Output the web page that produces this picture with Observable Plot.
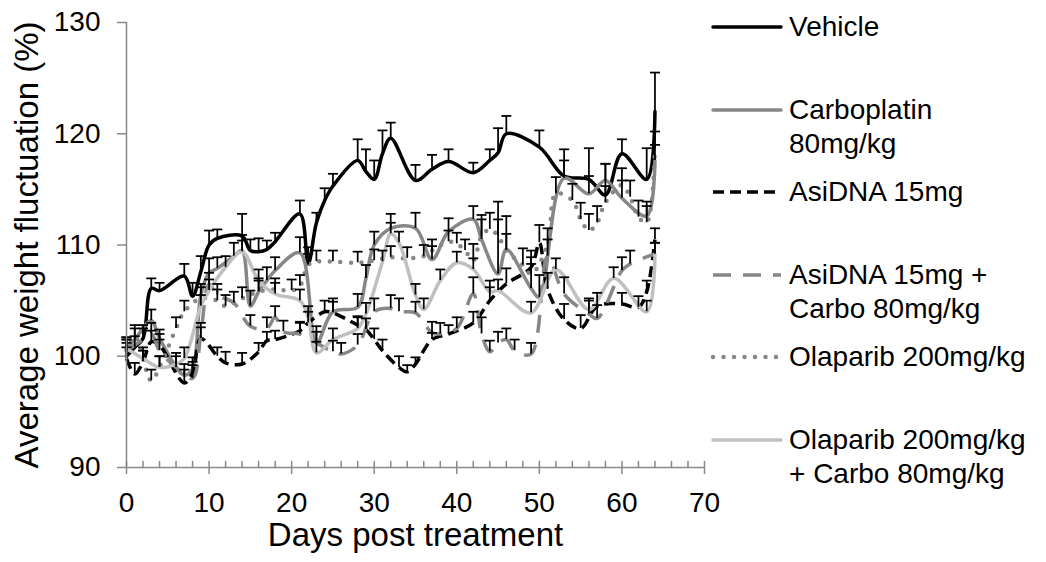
<!DOCTYPE html>
<html>
<head>
<meta charset="utf-8">
<script src="https://cdn.jsdelivr.net/npm/d3@7"></script>
<script src="https://cdn.jsdelivr.net/npm/@observablehq/plot@0.6"></script>
<style>
  body { margin: 0; background: #fff; font-family: "Liberation Sans", Arial, sans-serif; }
  #wrap { position: relative; width: 1046px; height: 562px; overflow: hidden; }
  #legend { position: absolute; left: 0; top: 0; width: 1046px; height: 562px; pointer-events: none; }
  .item { position: absolute; left: 711px; display: flex; align-items: flex-start; }
  .item svg { flex: none; }
  .item .lab { font-size: 28px; line-height: 34px; color: #000; white-space: nowrap; }
</style>
</head>
<body>
<div id="wrap"><div id="chart"></div><div id="legend"></div></div>
<script>
// ---- data: [day, mean %, upper error] ----
const vehicle = [[0,100,1.2],[1,100.8,1],[2,101.6,1.2],[3,106.1,0.9],[4,105.9,0.7],[7,107.2,1.1],[8,105.4,1.2],[9,107.6,1.4],[10,110,1.3],[11,110.6,0.8],[14,110.8,2],[15,109.5,1],[16,109.4,1.2],[17,109.6,0.8],[18,110.3,0.8],[21,112.8,1.2],[22,108.3,1.5],[23,112,0.9],[24,114,1.1],[25,115.3,1.1],[28,117.6,1.9],[29,116.6,2],[30,115.9,1.7],[31,118.2,2.1],[32,119.6,1.4],[35,115.8,1.4],[37,116.8,1.3],[39,117.5,1.1],[42,116.5,0.9],[44,117.6,1],[45,118.3,2.2],[46,120,1.6],[50,118.8,1.5],[53,116.2,2.4],[56,115.9,2.8],[58,114.5,2.8],[60,118.2,1.3],[63,115.9,2.8],[64,122,3.5]];
const carboplatin = [[0,100.7,1],[1,101.5,1],[3,103.2,1],[4,101.6,0.8],[7,98.3,1],[8,98.9,1],[9,105.5,1],[10,107.5,1.3],[11,107.9,1],[13,109,1.2],[14,109.5,1.4],[15,104.5,1.4],[16,105.8,1.2],[17,106.8,1.2],[18,107.7,1.2],[21,109.3,1.4],[23,101.2,1.5],[25,104,1.2],[28,104.4,1.2],[29,107,1.2],[30,110,1.2],[32,111.5,1.3],[35,111.5,1.4],[37,108.7,1.2],[39,111.2,1.2],[42,112.3,1.2],[43,110.5,2.2],[45,107.4,6.5],[46,109.6,3],[49,106.1,2.2],[50,105.3,2],[53,116,1.6],[56,114.6,1.6],[58,115.8,1.5],[60,114.2,1.6],[63,112.6,1.3],[64,117.6,1.4]];
const asidna = [[0,99.8,1],[1,98.4,1],[2,99.5,1],[3,101.3,1],[4,101,1],[7,97.6,1.2],[8,98.5,1],[9,101.6,1],[11,100,0.8],[12,99.4,1],[14,99.3,1],[16,100.4,0.8],[17,101.4,0.8],[18,101.5,0.8],[21,102.3,0.8],[22,103,1],[24,104,1],[25,103.9,1],[28,102.8,0.8],[29,102.4,1],[30,101.5,1],[31,100.5,1],[33,99,1],[34,98.6,0.6],[35,99.3,0.6],[37,101.5,0.6],[39,102,0.8],[42,103,1],[44,105,1.2],[46,106.5,1.4],[49,108,1.5],[50,110.2,1.6],[51,106,1.5],[53,103.3,1.4],[55,102.5,1.2],[57,104.5,1.2],[60,104.7,1],[62,104.4,1],[63,105.8,1],[64,110.5,1]];
const asidnaCarbo = [[0,100.5,1],[2,101.5,1],[3,102,1],[4,100.5,1],[6,99,1],[8,98,1.2],[9,102,1],[10,106.5,1],[11,105.5,1],[13,104.8,1],[15,102.7,1],[17,102.5,1],[18,103.5,1],[19,102.2,1],[21,102,1],[23,101.2,1],[25,100.4,1],[26,100.2,1],[28,101,1],[30,104,1.2],[32,104.3,1.2],[33,104,1.2],[35,103.9,1],[37,102.1,1],[38,102,1],[40,102.5,1],[42,105.6,1.5],[43,102,1.5],[44,100.4,1],[45,101.2,1],[46,101.5,1],[47,100.5,1],[49,100.2,1],[51,109,1.5],[53,105.6,1.5],[56,103.8,1.2],[57,103.4,1.2],[60,107.7,1.2],[61,108.3,1.2],[64,109.2,1]];
const olaparib = [[0,100.5,1],[1,101.8,1],[3,97.8,1],[4,99,1],[6,102.5,1],[7,104,1],[9,105.2,1],[11,105,1],[12,104.5,1],[14,105.2,1],[16,105.8,1],[18,106,1],[20,105.9,1],[21,106.3,1],[22,108.2,1],[23,108.5,1],[25,108.5,1],[28,108.4,1],[30,108.6,1],[32,108.9,1],[34,108.8,1],[36,109,1],[37,109.5,1],[39,110.3,1],[40,110.1,1],[41,109.5,1],[42,108.6,1.5],[43,110.8,1.5],[44,111.4,1.5],[45,110.8,1.5],[46,109.5,1.5],[48,108.2,1.5],[49,107.4,1.5],[51,110,1.5],[52,114.6,1.5],[54,114,1.5],[55,112.3,1.5],[56,111.3,1.5],[57,112,1.5],[58,113.8,1.5],[60,115.4,1.5],[61,114.3,1.5],[62,112.5,1.5],[63,112,1.5],[64,118.7,1.5]];
const olaparibCarbo = [[0,100.7,1],[2,99.8,1],[4,99,1],[6,99.3,1],[7,99.8,1],[9,104.5,1],[10,105.9,1],[12,108,1],[14,109.4,1],[16,106.8,1],[18,105.6,1],[21,105,1],[22,103.5,1],[23,100.3,1],[25,101.5,1],[28,102.5,1],[29,103.8,1],[31,108.5,1],[32,111,1],[33,110.2,1],[35,105.5,1],[36,104.2,1],[38,106.8,1],[40,108.4,1],[42,107.8,1],[44,105.8,1],[45,105.9,1],[49,103.9,1],[52,107.8,1],[56,104.2,1],[59,107,1],[63,104,1],[64,109.2,1]];

const seriesNames = ["Vehicle", "Carboplatin 80mg/kg", "AsiDNA 15mg", "AsiDNA 15mg + Carbo 80mg/kg", "Olaparib 200mg/kg", "Olaparib 200mg/kg + Carbo 80mg/kg"];
const legendLines = [["Vehicle"], ["Carboplatin", "80mg/kg"], ["AsiDNA 15mg"], ["AsiDNA 15mg +", "Carbo 80mg/kg"], ["Olaparib 200mg/kg"], ["Olaparib 200mg/kg", "+ Carbo 80mg/kg"]];
const xTicks = [0, 10, 20, 30, 40, 50, 60, 70];
const xMinorTicks = [0,2,4,6,8,10,12,14,16,18,20,22,24,26,28,30,32,34,36,38,40,42,44,46,48,50,52,54,56,58,60,62,64,66,68,70];
const yTicks = [90, 100, 110, 120, 130];
const xTitle = "Days post treatment";
const yTitle = "Average weight fluctuation (%)";

// ---- styling ----
const styles = [
  {stroke: "#000000", dash: null, cap: "round", width: 3.5},
  {stroke: "#878787", dash: null, cap: "round", width: 3.5},
  {stroke: "#000000", dash: "11,6", cap: "butt", width: 3.5},
  {stroke: "#878787", dash: "18,12", cap: "butt", width: 3.5},
  {stroke: "#878787", dash: "0,10.5", cap: "round", width: 4.5},
  {stroke: "#c0c0c0", dash: null, cap: "round", width: 3.5}
];
const axisColor = "#898989";

const allSeries = [vehicle, carboplatin, asidna, asidnaCarbo, olaparib, olaparibCarbo];
const rows = allSeries.flatMap((arr, i) => arr.map(([day, value, err]) => ({series: seriesNames[i], day, value, err})));

const capSymbol = {
  draw(context, size) {
    const w = Math.sqrt(size / Math.PI);
    context.moveTo(-w, 0);
    context.lineTo(w, 0);
  }
};
const tickUp = {
  draw(context, length) {
    context.moveTo(0, 0);
    context.lineTo(0, -length);
  }
};

const lineMarks = allSeries.map((arr, i) => Plot.line(rows.filter(d => d.series === seriesNames[i]), {
  x: "day", y: "value", curve: "catmull-rom",
  stroke: styles[i].stroke, strokeWidth: styles[i].width,
  strokeDasharray: styles[i].dash, strokeLinecap: styles[i].cap, strokeLinejoin: "round"
}));

const chart = Plot.plot({
  width: 1046, height: 562,
  marginLeft: 126, marginRight: 342, marginTop: 22, marginBottom: 95,
  x: {domain: [0, 70]},
  y: {domain: [90, 130]},
  style: {fontFamily: '"Liberation Sans", Arial, sans-serif', fontSize: "28px", color: "#000", background: "#fff", overflow: "visible"},
  marks: [
    ...lineMarks,
    Plot.ruleX(rows, {x: "day", y1: "value", y2: d => d.value + d.err, stroke: "#000", strokeWidth: 1.75}),
    Plot.dot(rows, {x: "day", y: d => d.value + d.err, symbol: capSymbol, r: 5, stroke: "#000", fill: "none", strokeWidth: 1.75}),
    Plot.ruleY([90], {stroke: axisColor, strokeWidth: 1.5}),
    Plot.ruleX([0], {stroke: axisColor, strokeWidth: 1.5}),
    Plot.vector(xMinorTicks, {x: d => d, y: () => 90, length: 6, anchor: "start", rotate: 0, shape: tickUp, stroke: axisColor, strokeWidth: 1.5}),
    Plot.axisX({ticks: xTicks, tickSize: 7, tickPadding: 18, stroke: axisColor, strokeWidth: 1.5, label: null, tickFormat: d => String(d)}),
    Plot.axisY({ticks: yTicks, tickSize: 9, tickPadding: 17, stroke: axisColor, strokeWidth: 1.5, label: null, tickFormat: d => String(d)}),
    Plot.text([xTitle], {frameAnchor: "bottom", dy: 78, fontSize: 33, fill: "#000"}),
    Plot.text([yTitle], {frameAnchor: "left", textAnchor: "middle", lineAnchor: "middle", dx: -99, rotate: -90, fontSize: 33, fill: "#000"})
  ]
});
document.getElementById("chart").appendChild(chart);

// ---- legend (HTML) ----
const legend = document.getElementById("legend");
const legendTop = 27, legendStep = 82.6;
legendLines.forEach((lines, i) => {
  const item = document.createElement("div");
  item.className = "item";
  item.style.top = (legendTop + i * legendStep - 17) + "px";
  const ns = "http://www.w3.org/2000/svg";
  const svg = document.createElementNS(ns, "svg");
  svg.setAttribute("width", 78);
  svg.setAttribute("height", 34);
  const ln = document.createElementNS(ns, "line");
  ln.setAttribute("x1", 2); ln.setAttribute("x2", 70);
  ln.setAttribute("y1", 17); ln.setAttribute("y2", 17);
  ln.setAttribute("stroke", styles[i].stroke);
  ln.setAttribute("stroke-width", styles[i].width);
  ln.setAttribute("stroke-linecap", styles[i].cap);
  if (styles[i].dash) ln.setAttribute("stroke-dasharray", styles[i].dash);
  svg.appendChild(ln);
  item.appendChild(svg);
  const lab = document.createElement("div");
  lab.className = "lab";
  lab.innerHTML = lines.join("<br>");
  item.appendChild(lab);
  legend.appendChild(item);
});
</script>
</body>
</html>
